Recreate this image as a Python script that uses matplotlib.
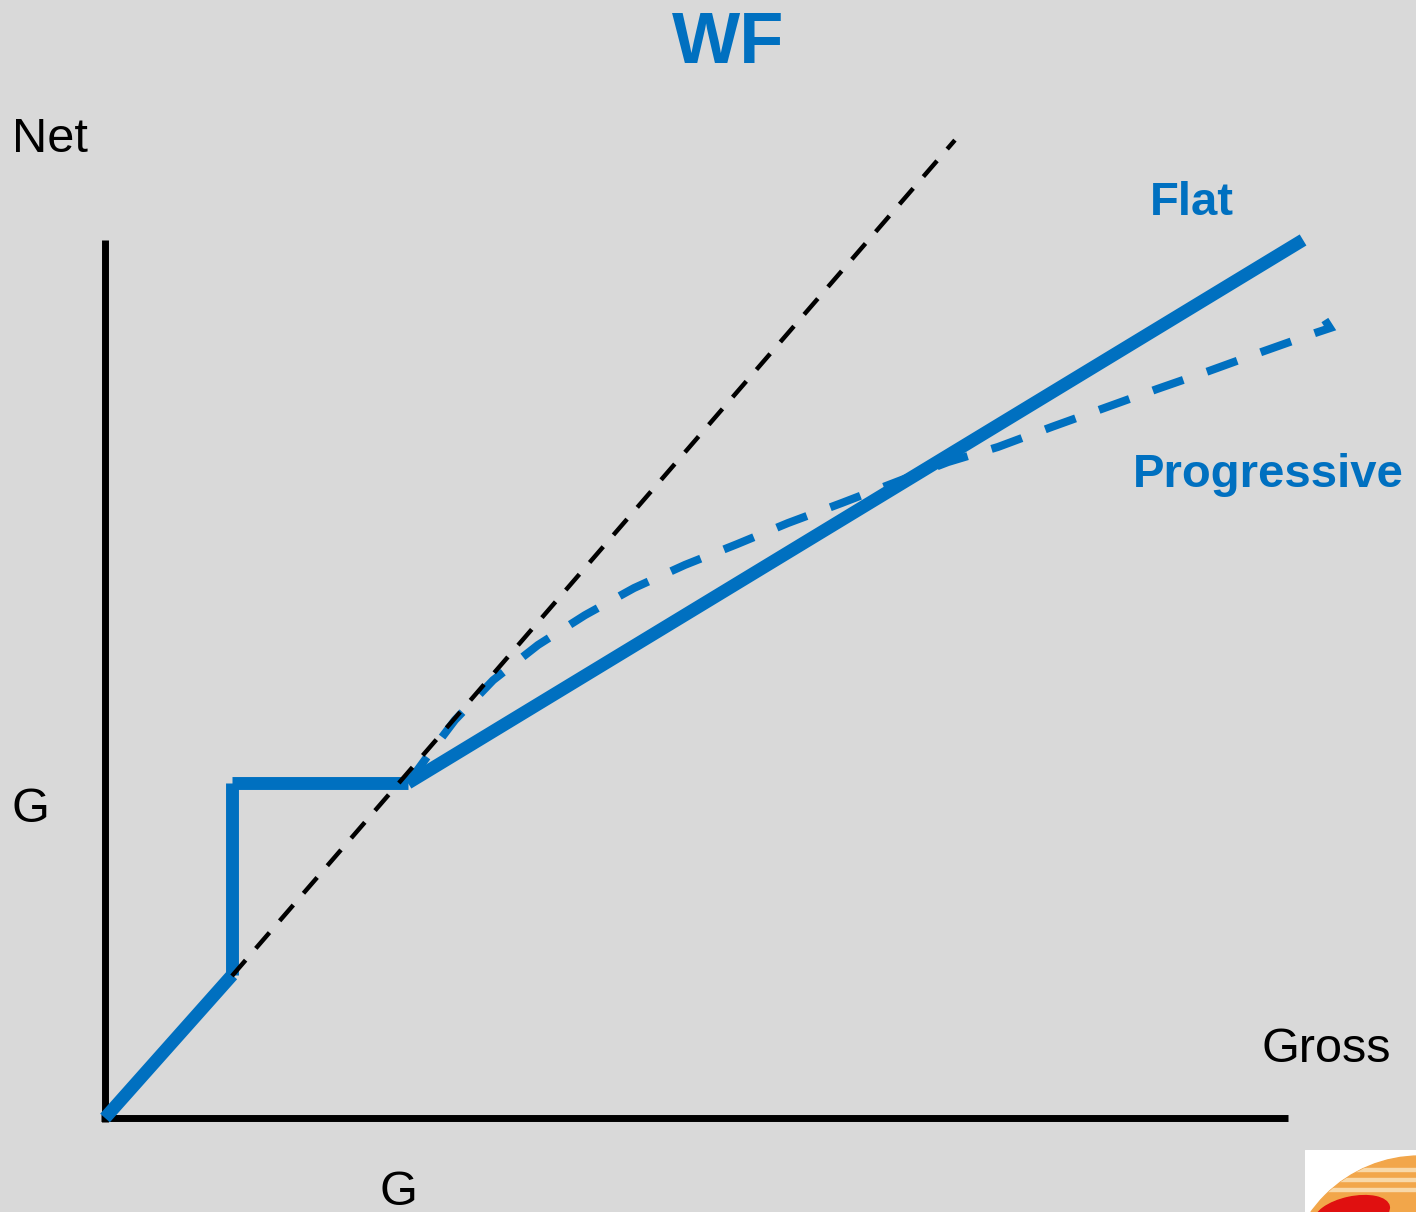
import matplotlib
matplotlib.use("Agg")
import matplotlib.pyplot as plt
from matplotlib.patches import Circle, Ellipse, Rectangle

# Net vs gross income under two tax schemes (units of the allowance G)
flat_gross = [0.0, 0.42, 0.42, 1.0, 3.954]
flat_net = [0.0, 0.427, 1.0, 1.0, 2.621]

prog_gross = [1.000, 1.063, 1.155, 1.281, 1.429, 1.584, 1.746, 1.914, 2.086,
              2.254, 2.432, 2.782, 2.947, 3.125, 3.297, 3.472, 3.644, 3.818,
              3.993, 4.043, 4.026]
prog_net = [1.000, 1.078, 1.188, 1.307, 1.412, 1.501, 1.582, 1.651, 1.713,
            1.776, 1.836, 1.958, 2.003, 2.063, 2.119, 2.176, 2.230, 2.287,
            2.343, 2.358, 2.382]

# no-tax reference line (net = gross)
ref_gross = [0.419, 2.805]
ref_net = [0.424, 2.919]

# axis extents
x_axis_end = 3.904
y_axis_end = 2.621

BLUE = "#0070c0"
BG = "#d9d9d9"
W, H = 1416, 1212
x0, y0 = 105, 1118          # origin in pixels
sx, sy = 303.0, 335.0        # pixels per unit

fig = plt.figure(figsize=(W / 100, H / 100), dpi=100, facecolor=BG)
ax = fig.add_axes([0, 0, 1, 1])
ax.set_facecolor(BG)
ax.set_xlim(-x0 / sx, (W - x0) / sx)
ax.set_ylim(-(H - y0) / sy, y0 / sy)
ax.axis("off")

# axes drawn as thick black lines
ax.plot([0, 0], [-0.012, y_axis_end], color="black", lw=5.0, solid_capstyle="butt")
ax.plot([-0.013, x_axis_end], [0, 0], color="black", lw=5.0, solid_capstyle="butt")

# flat scheme, drawn segment by segment
for i in range(len(flat_gross) - 1):
    ax.plot(flat_gross[i:i + 2], flat_net[i:i + 2], color=BLUE, lw=9.3,
            solid_capstyle="butt", zorder=3)

# progressive scheme
ax.plot(prog_gross, prog_net, color=BLUE, lw=5.8, linestyle=(0, (4, 3.1)),
        dash_capstyle="butt", dash_joinstyle="miter", zorder=4)

# net = gross
ax.plot(ref_gross, ref_net, color="black", lw=3.2, linestyle=(0, (4.7, 3.5)),
        dash_capstyle="butt", zorder=5)

def fx(px):
    return px / W

def fy(py):
    return 1 - py / H

fam = ["Liberation Sans", "DejaVu Sans"]
fig.text(fx(728), fy(63), "WF", color=BLUE, fontsize=52, fontweight="bold",
         ha="center", va="baseline", family=fam)
fig.text(fx(12), fy(152), "Net", color="black", fontsize=35, ha="left",
         va="baseline", family=fam)
fig.text(fx(12), fy(822), "G", color="black", fontsize=35, ha="left",
         va="baseline", family=fam)
fig.text(fx(1262), fy(1062), "Gross", color="black", fontsize=35, ha="left",
         va="baseline", family=fam)
fig.text(fx(398), fy(1205), "G", color="black", fontsize=35, ha="center",
         va="baseline", family=fam)
fig.text(fx(1150), fy(215), "Flat", color=BLUE, fontsize=34, fontweight="bold",
         ha="left", va="baseline", family=fam)
fig.text(fx(1133), fy(487), "Progressive", color=BLUE, fontsize=34,
         fontweight="bold", ha="left", va="baseline", family=fam)

# corner logo
lax = fig.add_axes([1305 / W, 0, (W - 1305) / W, (H - 1150) / H])
lax.set_xlim(1305, W)
lax.set_ylim(H, 1150)
lax.axis("off")
lax.add_patch(Rectangle((1305, 1150), W - 1305, H - 1150, color="white"))
disc = Circle((1420, 1290), 134, color="#f2a64a")
lax.add_patch(disc)
for yy in (1168, 1178, 1188):
    stripe = Rectangle((1305, yy), W - 1305, 2.5, color="#f8d8a8")
    lax.add_patch(stripe)
    stripe.set_clip_path(disc)
lax.add_patch(Ellipse((1352, 1214), 76, 34, angle=-12, color="#e01010"))

fig.savefig("out.png", dpi=100, facecolor=BG)
